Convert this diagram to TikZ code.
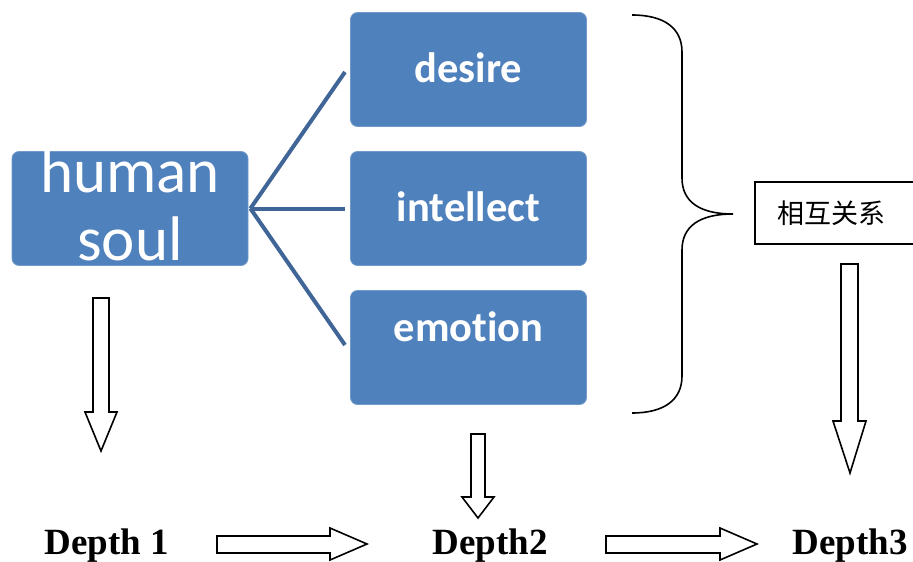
\documentclass[tikz,border=0pt]{standalone}
\usepackage{fontspec}
\setmainfont{Liberation Serif}
\newfontfamily\carlito[Ligatures={NoCommon}]{Carlito}
\newfontfamily\cjk{Noto Sans CJK SC}
\definecolor{boxblue}{HTML}{4F81BD}
\definecolor{linkblue}{HTML}{3F6697}
\begin{document}
\begin{tikzpicture}[x=1pt,y=-1pt,
  sbox/.style={fill=boxblue, draw=boxblue!80!white, line width=0.8pt, rounded corners=7pt,
    minimum width=236pt, minimum height=114pt, inner sep=0pt},
  boxtext/.style={text=white, anchor=base, inner sep=0pt},
  link/.style={draw=linkblue, line width=4pt},
  hollow/.style={draw=black, fill=white, line width=1.6pt, line join=miter},
  depthtext/.style={font=\bfseries\fontsize{37}{42}\selectfont, anchor=base, inner sep=0pt}]
\useasboundingbox (0,0) rectangle (913,562);

% boxes
\node[sbox] (hs) at (130,208.5) {};
\node[sbox] (de) at (468.5,69.5) {};
\node[sbox] (in) at (468.5,208.5) {};
\node[sbox] (em) at (468.5,347.5) {};

\node[boxtext, font=\carlito\fontsize{63}{70}\selectfont] (t1) at (130,192) {human};
\node[boxtext, font=\carlito\fontsize{63}{70}\selectfont] (t2) at (130,260) {soul};
\node[boxtext, font=\carlito\bfseries\fontsize{42.5}{48}\selectfont] (t3) at (468.5,82) {desire};
\node[boxtext, font=\carlito\bfseries\fontsize{42.5}{48}\selectfont] (t4) at (468.5,221) {intellect};
\node[boxtext, font=\carlito\bfseries\fontsize{42.5}{48}\selectfont] (t5) at (468.5,341) {emotion};

% connectors
\coordinate (hub) at ([xshift=2pt]hs.east);
\coordinate (e1) at (345,72);
\coordinate (e2) at (345,208.5);
\coordinate (e3) at (345,345);
\draw[link] (hub) -- (e1);
\draw[link] (hub) -- (e2);
\draw[link] (hub) -- (e3);

% brace
\draw[line width=1.6pt] (632,15) .. controls (664,15) and (682,28) .. (682,52) -- (682,178)
  .. controls (682,202) and (700,214) .. (733,214)
  .. controls (700,214) and (682,226) .. (682,250) -- (682,376)
  .. controls (682,400) and (664,413) .. (632,413);

% relation box
\draw[line width=1.4pt] (915,182) -- (755,182) -- (755,244) -- (915,244);
\node[font=\cjk\fontsize{27}{32}\selectfont, anchor=west, inner sep=0pt] (rel) at (777,213) {相互关系};

% hollow down arrows
\draw[hollow] (93,298) -- (109,298) -- (109,412) -- (117,412) -- (101,451) -- (85,412) -- (93,412) -- cycle;
\draw[hollow] (471,434) -- (485,434) -- (485,497) -- (494,497) -- (478,518) -- (462,497) -- (471,497) -- cycle;
\draw[hollow] (841,264) -- (858,264) -- (858,421) -- (866,421) -- (850,473) -- (833,421) -- (841,421) -- cycle;

% hollow right arrows
\draw[hollow] (217,536) -- (330,536) -- (330,528) -- (367,544) -- (330,560) -- (330,553) -- (217,553) -- cycle;
\draw[hollow] (606,536) -- (720,536) -- (720,528) -- (757,544) -- (720,560) -- (720,553) -- (606,553) -- cycle;

% depth labels
\node[depthtext] (d1) at (107,554) {Depth 1};
\node[depthtext] (d2) at (490,554) {Depth2};
\node[depthtext] (d3) at (850,554) {Depth3};
\end{tikzpicture}
\end{document}
